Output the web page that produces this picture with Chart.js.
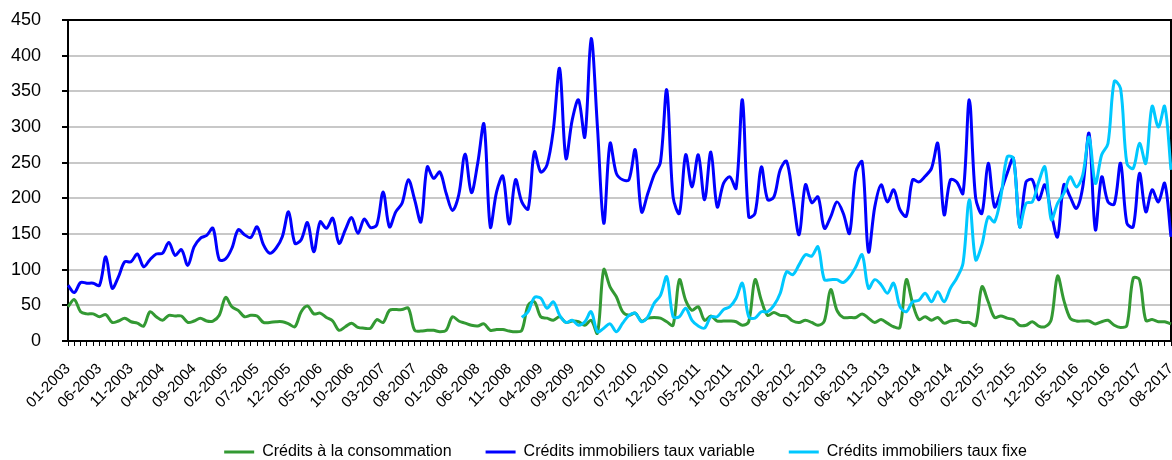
<!DOCTYPE html>
<html>
<head>
<meta charset="utf-8">
<script src="https://cdn.jsdelivr.net/npm/chart.js@4.4.0/dist/chart.umd.min.js"></script>
<style>
  html, body { margin: 0; padding: 0; background: #fff; }
</style>
</head>
<body>
<canvas id="creditChart" width="1172" height="460"></canvas>
<script>
const categories = [
  "01-2003","02-2003","03-2003","04-2003","05-2003","06-2003","07-2003","08-2003","09-2003","10-2003","11-2003","12-2003",
  "01-2004","02-2004","03-2004","04-2004","05-2004","06-2004","07-2004","08-2004","09-2004","10-2004","11-2004","12-2004",
  "01-2005","02-2005","03-2005","04-2005","05-2005","06-2005","07-2005","08-2005","09-2005","10-2005","11-2005","12-2005",
  "01-2006","02-2006","03-2006","04-2006","05-2006","06-2006","07-2006","08-2006","09-2006","10-2006","11-2006","12-2006",
  "01-2007","02-2007","03-2007","04-2007","05-2007","06-2007","07-2007","08-2007","09-2007","10-2007","11-2007","12-2007",
  "01-2008","02-2008","03-2008","04-2008","05-2008","06-2008","07-2008","08-2008","09-2008","10-2008","11-2008","12-2008",
  "01-2009","02-2009","03-2009","04-2009","05-2009","06-2009","07-2009","08-2009","09-2009","10-2009","11-2009","12-2009",
  "01-2010","02-2010","03-2010","04-2010","05-2010","06-2010","07-2010","08-2010","09-2010","10-2010","11-2010","12-2010",
  "01-2011","02-2011","03-2011","04-2011","05-2011","06-2011","07-2011","08-2011","09-2011","10-2011","11-2011","12-2011",
  "01-2012","02-2012","03-2012","04-2012","05-2012","06-2012","07-2012","08-2012","09-2012","10-2012","11-2012","12-2012",
  "01-2013","02-2013","03-2013","04-2013","05-2013","06-2013","07-2013","08-2013","09-2013","10-2013","11-2013","12-2013",
  "01-2014","02-2014","03-2014","04-2014","05-2014","06-2014","07-2014","08-2014","09-2014","10-2014","11-2014","12-2014",
  "01-2015","02-2015","03-2015","04-2015","05-2015","06-2015","07-2015","08-2015","09-2015","10-2015","11-2015","12-2015",
  "01-2016","02-2016","03-2016","04-2016","05-2016","06-2016","07-2016","08-2016","09-2016","10-2016","11-2016","12-2016",
  "01-2017","02-2017","03-2017","04-2017","05-2017","06-2017","07-2017","08-2017"
];

// Crédits à la consommation
const consoValues = [
  48, 58, 41, 38, 38, 34, 37, 26, 28, 32,
  27, 25, 21, 41, 34, 29, 36, 35, 35, 26,
  28, 32, 28, 28, 36, 61, 48, 43, 34, 36,
  35, 26, 26, 27, 27, 24, 20, 41, 49, 38,
  39, 33, 28, 15, 20, 25, 19, 18, 18, 30,
  26, 43, 44, 44, 46, 15, 14, 15, 15, 13,
  15, 34, 28, 25, 22, 21, 24, 15, 16, 16,
  14, 13, 15, 50, 55, 34, 32, 29, 34, 26,
  28, 27, 22, 29, 11, 100, 76, 62, 41, 36,
  39, 28, 32, 33, 32, 27, 22, 86, 57, 43,
  48, 29, 35, 28, 28, 28, 27, 22, 27, 86,
  57, 36, 40, 36, 35, 28, 26, 29, 26, 22,
  28, 72, 43, 33, 33, 33, 38, 32, 26, 30,
  25, 20, 19, 86, 53, 30, 34, 29, 33, 25,
  28, 29, 26, 26, 22, 76, 55, 33, 35, 32,
  30, 22, 22, 27, 21, 20, 30, 91, 57, 32,
  28, 28, 28, 24, 27, 29, 22, 19, 22, 88,
  86, 29, 30, 27, 27, 24
];

// Crédits immobiliers taux variable
const variableValues = [
  78, 68, 82, 81, 81, 78, 118, 74, 90, 111,
  111, 122, 104, 114, 122, 123, 138, 120, 128, 106,
  132, 144, 148, 158, 114, 115, 130, 156, 149, 145,
  160, 135, 123, 130, 146, 181, 137, 142, 166, 125,
  167, 158, 172, 137, 156, 173, 151, 171, 159, 163,
  209, 160, 181, 193, 226, 198, 167, 244, 228, 237,
  207, 183, 205, 262, 208, 249, 304, 160, 209, 231,
  164, 226, 195, 185, 265, 237, 247, 296, 382, 256,
  310, 338, 286, 424, 300, 165, 277, 235, 226, 226,
  268, 181, 207, 233, 251, 352, 202, 179, 261, 216,
  261, 198, 265, 188, 221, 230, 214, 338, 174, 179,
  244, 198, 202, 240, 252, 202, 149, 219, 194, 202,
  158, 174, 195, 179, 151, 237, 251, 125, 188, 219,
  195, 212, 184, 175, 226, 223, 231, 242, 277, 177,
  226, 223, 207, 338, 201, 179, 249, 188, 209, 235,
  256, 160, 223, 226, 198, 219, 179, 146, 219, 202,
  186, 216, 291, 156, 230, 195, 192, 249, 165, 160,
  235, 181, 212, 195, 221, 146
];

// Crédits immobiliers taux fixe (series starts in 01-2009)
const fixeValues = [
  null, null, null, null, null, null, null, null, null, null,
  null, null, null, null, null, null, null, null, null, null,
  null, null, null, null, null, null, null, null, null, null,
  null, null, null, null, null, null, null, null, null, null,
  null, null, null, null, null, null, null, null, null, null,
  null, null, null, null, null, null, null, null, null, null,
  null, null, null, null, null, null, null, null, null, null,
  null, null, 33, 41, 61, 60, 46, 55, 36, 26,
  29, 22, 27, 41, 13, 18, 24, 13, 25, 36,
  39, 27, 34, 53, 64, 90, 34, 34, 46, 29,
  21, 18, 34, 34, 44, 48, 60, 81, 34, 32,
  41, 41, 50, 67, 97, 93, 107, 121, 119, 132,
  86, 86, 86, 82, 90, 104, 121, 74, 86, 79,
  67, 81, 48, 41, 55, 57, 67, 55, 69, 55,
  74, 88, 109, 198, 114, 135, 174, 167, 202, 258,
  256, 160, 193, 195, 223, 244, 170, 193, 207, 230,
  216, 233, 286, 221, 261, 277, 364, 354, 249, 242,
  277, 249, 329, 300, 329, 240
];

const fontFamily = "Arial, 'Liberation Sans', sans-serif";
const legendShift = 40;

// top and right edges of the plot area, legend nudged to the right
const plotFrame = {
  id: "plotFrame",
  beforeDatasetsDraw(chart) {
    const { ctx, chartArea } = chart;
    ctx.save();
    ctx.strokeStyle = "#000";
    ctx.lineWidth = 2;
    ctx.beginPath();
    ctx.moveTo(chartArea.left, chartArea.top);
    ctx.lineTo(chartArea.right, chartArea.top);
    ctx.lineTo(chartArea.right, chartArea.bottom);
    ctx.stroke();
    ctx.restore();
  },
  afterLayout(chart) {
    if (chart.legend) {
      chart.legend.left += legendShift;
      chart.legend.right += legendShift;
    }
  },
};

const ctx = document.getElementById("creditChart").getContext("2d");
const creditChart = new Chart(ctx, {
  type: "line",
  data: {
    labels: categories,
    datasets: [
      {
        label: "Crédits à la consommation",
        data: consoValues,
        borderColor: "#339933",
        backgroundColor: "#339933",
        borderWidth: 3,
        order: 3,
      },
      {
        label: "Crédits immobiliers taux variable",
        data: variableValues,
        borderColor: "#0000ff",
        backgroundColor: "#0000ff",
        borderWidth: 3,
        order: 2,
      },
      {
        label: "Crédits immobiliers taux fixe",
        data: fixeValues,
        borderColor: "#00c8ff",
        backgroundColor: "#00c8ff",
        borderWidth: 3,
        order: 1,
      },
    ],
  },
  options: {
    responsive: false,
    animation: false,
    layout: { padding: { top: 20, right: 1, left: 0, bottom: 0 } },
    elements: {
      point: { radius: 0 },
      line: { tension: 0.33, fill: false },
    },
    plugins: {
      tooltip: { enabled: false },
      legend: {
        position: "bottom",
        maxHeight: 50,
        labels: {
          usePointStyle: true,
          pointStyle: "line",
          pointStyleWidth: 30,
          padding: 34,
          color: "#000",
          font: { family: fontFamily, size: 16 },
          sort: (a, b) => a.datasetIndex - b.datasetIndex,
        },
      },
    },
    scales: {
      x: {
        offset: false,
        grid: {
          drawOnChartArea: false,
          drawTicks: true,
          tickLength: 5,
          tickColor: "#000",
        },
        border: { color: "#000", width: 2 },
        ticks: {
          autoSkip: false,
          minRotation: 45,
          maxRotation: 45,
          padding: 14,
          color: "#000",
          font: { family: fontFamily, size: 15 },
          callback: function (val, index) {
            return index % 5 === 0 ? this.getLabelForValue(val) : "";
          },
        },
        afterFit: (scale) => {
          scale.height = 69;
          scale.paddingLeft = 0;
          scale.paddingRight = 0;
        },
      },
      y: {
        min: 0,
        max: 450,
        grid: {
          color: "#c8c8c8",
          lineWidth: 2,
          tickLength: 6,
          tickColor: "#000",
        },
        border: { color: "#000", width: 2 },
        ticks: {
          stepSize: 50,
          padding: 21,
          color: "#000",
          font: { family: fontFamily, size: 18 },
        },
        afterFit: (scale) => {
          scale.width = 68;
          scale.paddingTop = 0;
          scale.paddingBottom = 0;
        },
      },
    },
  },
  plugins: [plotFrame],
});
</script>
</body>
</html>
